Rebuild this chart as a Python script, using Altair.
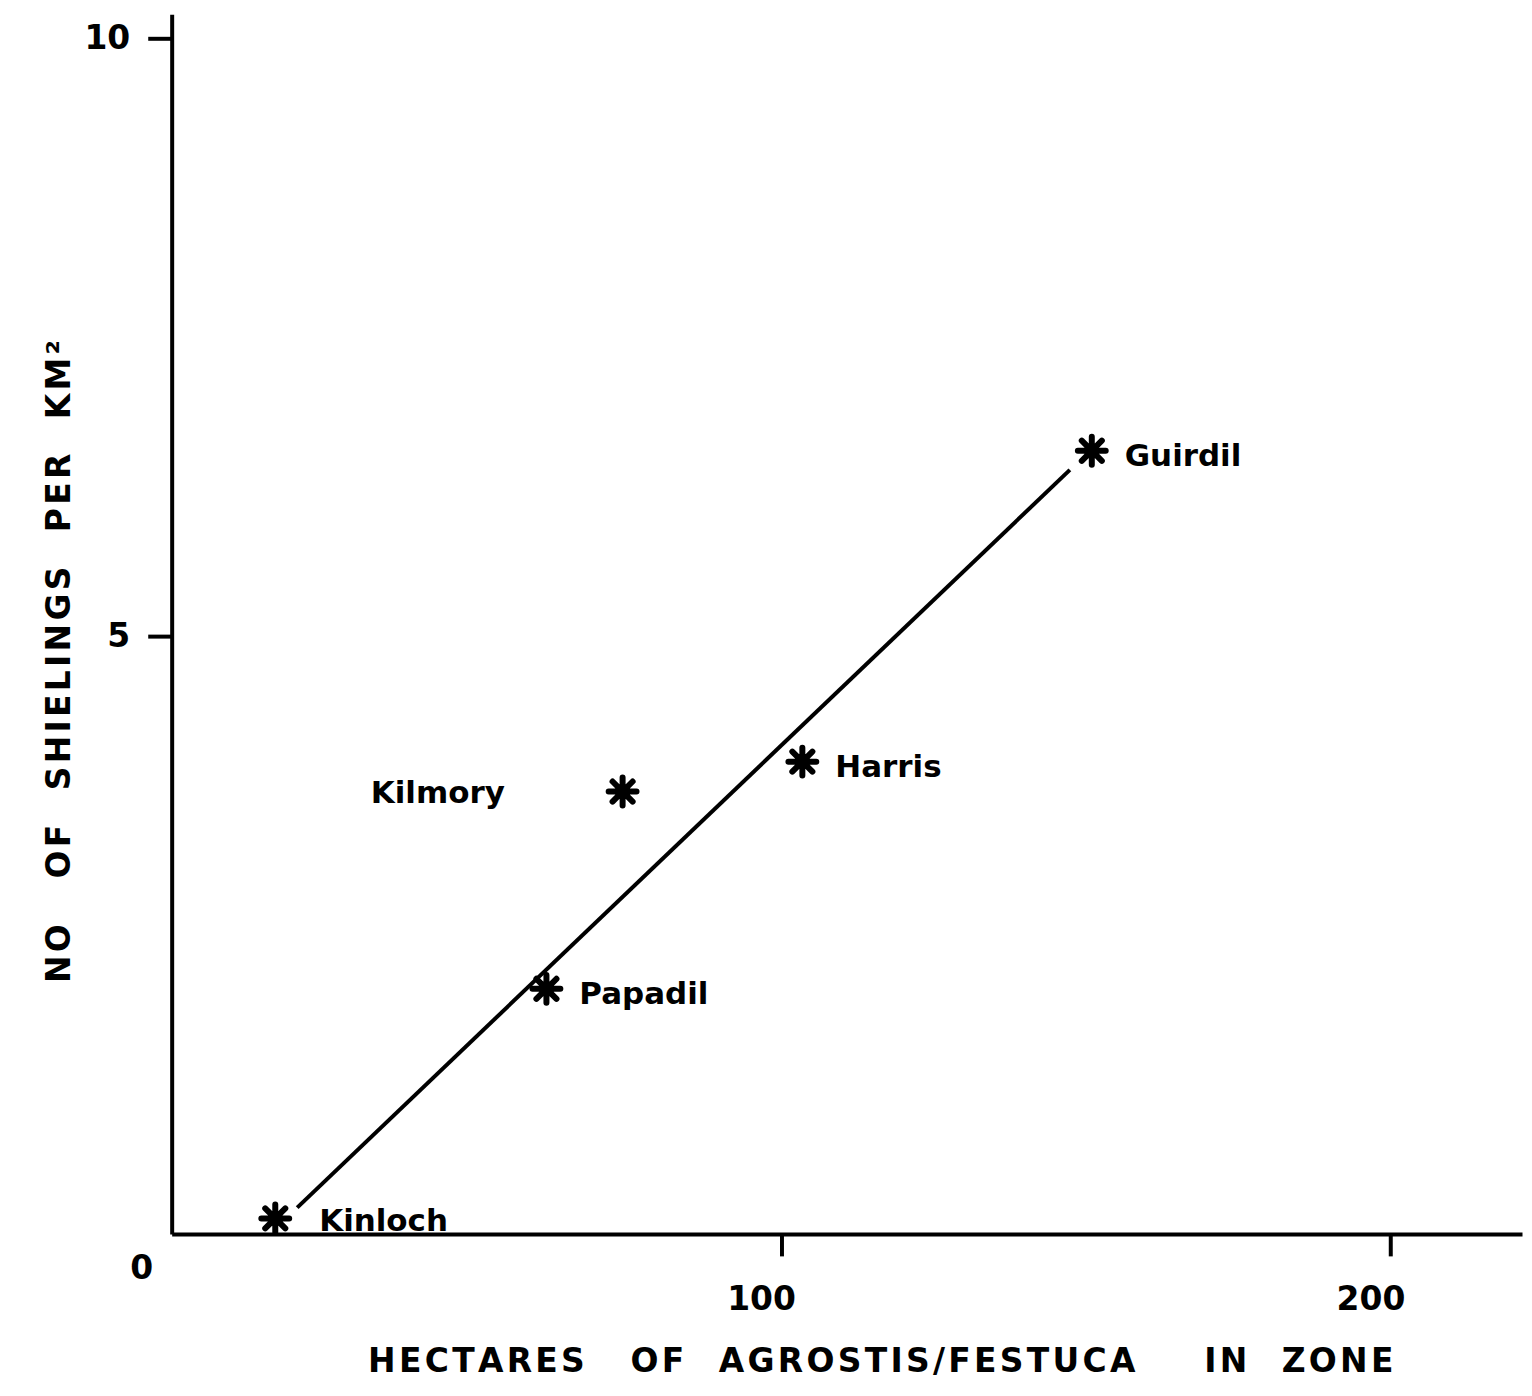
import altair as alt
import pandas as pd

# ---- data ----
names = ["Kinloch", "Papadil", "Kilmory", "Harris", "Guirdil"]
hectares = [17, 61.5, 74, 103.5, 151]
shielings = [0.13, 2.05, 3.7, 3.95, 6.55]

fit_x = [20.6, 147.4]
fit_y = [0.22, 6.39]

x_ticks = [100, 200]
y_ticks = [5, 10]
origin_label = ["0"]

FONT = "DejaVu Sans"
TS = "\u200a"   # hair space for letter spacing
NB = "\u00a0"   # non-breaking space for word gaps


def spaced(word):
    return TS.join(list(word))


x_title = (spaced("HECTARES") + NB * 4 + spaced("OF") + NB * 3 + spaced("AGROSTIS/FESTUCA")
           + NB * 6 + spaced("IN") + NB * 3 + spaced("ZONE"))
y_title = (spaced("NO") + NB * 4 + spaced("OF") + NB * 3 + spaced("SHIELINGS") + NB * 3
           + spaced("PER") + NB * 3 + spaced("KM²"))

pts = pd.DataFrame({"name": names, "ha": hectares, "sh": shielings})
fit = pd.DataFrame({"ha": fit_x, "sh": fit_y})
orig = pd.DataFrame({"t": origin_label, "ha": [-4.9], "sh": [-0.29]})

xscale = alt.Scale(domain=[0, 221.6], nice=False, zero=False)
yscale = alt.Scale(domain=[0, 10.2], nice=False, zero=False)

xaxis = alt.Axis(
    values=x_ticks, title=x_title, grid=False, format="d",
    domainColor="black", domainWidth=4, tickColor="black", tickWidth=4, tickSize=22,
    labelFont=FONT, labelFontSize=33, labelFontWeight="bold", labelColor="black", labelPadding=28,
    labelOffset=-20,
    titleFont=FONT, titleFontSize=33, titleFontWeight="bold", titleColor="black",
    titleX=710, titleY=128, titleAnchor="middle", titleAlign="center", titleBaseline="middle",
)
yaxis = alt.Axis(
    values=y_ticks, title=y_title, grid=False, format="d",
    domainColor="black", domainWidth=4, tickColor="black", tickWidth=4, tickSize=24,
    labelFont=FONT, labelFontSize=33, labelFontWeight="bold", labelColor="black", labelPadding=18,
    titleFont=FONT, titleFontSize=33, titleFontWeight="bold", titleColor="black",
    titleX=-112, titleY=648, titleAngle=-90, titleAlign="center", titleBaseline="middle",
)

base = alt.Chart(pts)

line = alt.Chart(fit).mark_line(color="black", strokeWidth=4).encode(
    x=alt.X("ha:Q", scale=xscale, axis=xaxis),
    y=alt.Y("sh:Q", scale=yscale, axis=yaxis),
)

star_path = "M-1,0L1,0M0,-1L0,1M-0.72,-0.72L0.72,0.72M-0.72,0.72L0.72,-0.72"
stars = base.mark_point(shape=star_path, filled=False, stroke="black", strokeWidth=6,
                        size=780, opacity=1, strokeCap="round").encode(
    x=alt.X("ha:Q", scale=xscale), y=alt.Y("sh:Q", scale=yscale))
cores = base.mark_point(shape="circle", filled=True, color="black", size=230, opacity=1).encode(
    x=alt.X("ha:Q", scale=xscale), y=alt.Y("sh:Q", scale=yscale))

label_style = dict(baseline="middle", font=FONT, fontSize=31, fontWeight="bold", color="black")
enc = dict(x=alt.X("ha:Q", scale=xscale), y=alt.Y("sh:Q", scale=yscale), text="name:N")

labels_right = base.transform_filter(
    (alt.datum.name != "Kilmory") & (alt.datum.name != "Kinloch")
).mark_text(align="left", dx=33, dy=6, **label_style).encode(**enc)
labels_kinloch = base.transform_filter(alt.datum.name == "Kinloch").mark_text(
    align="left", dx=44, dy=4, **label_style).encode(**enc)
labels_left = base.transform_filter(alt.datum.name == "Kilmory").mark_text(
    align="right", dx=-118, dy=2, **label_style).encode(**enc)

zero = alt.Chart(orig).mark_text(
    align="center", baseline="middle", font=FONT, fontSize=33, fontWeight="bold", color="black"
).encode(x=alt.X("ha:Q", scale=xscale), y=alt.Y("sh:Q", scale=yscale), text="t:N")

chart = alt.layer(line, stars, cores, labels_right, labels_kinloch, labels_left, zero).properties(
    width=1353, height=1222,
    autosize=alt.AutoSizeParams(type="none"),
    padding={"left": 164, "top": 5, "right": 2, "bottom": 150},
    background="white",
).configure_view(stroke=None)

chart.save("out.html", embed_options={"renderer": "svg", "actions": False})
